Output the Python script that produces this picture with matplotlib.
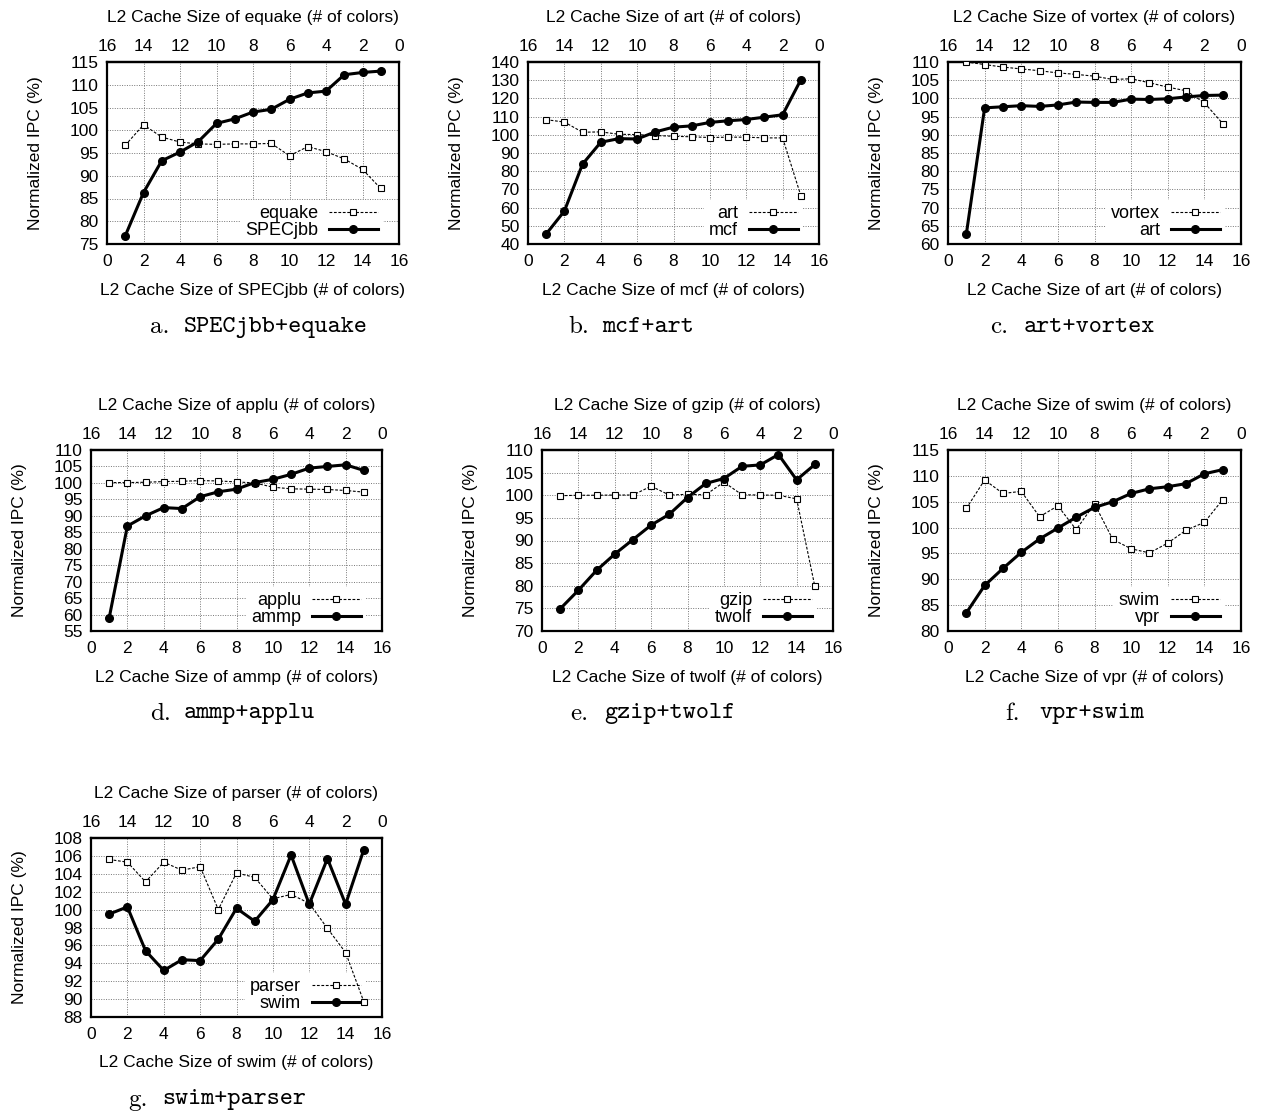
import numpy as np
import matplotlib
matplotlib.use("Agg")
import matplotlib.pyplot as plt

plt.rcParams['font.family'] = ['Liberation Sans', 'DejaVu Sans']

colors = list(range(1, 16))

# a. SPECjbb+equake
a_equake = [96.7, 101.2, 98.5, 97.4, 97.0, 96.9, 97.0, 97.0, 97.1, 94.4, 96.4, 95.3, 93.7, 91.4, 87.2]
a_specjbb = [76.8, 86.3, 93.3, 95.2, 97.5, 101.5, 102.5, 104.0, 104.6, 106.8, 108.2, 108.6, 112.2, 112.7, 113.0]
# b. mcf+art
b_art = [108.3, 107.0, 101.4, 101.6, 100.3, 100.1, 99.6, 99.2, 98.9, 98.5, 98.7, 98.7, 98.3, 98.3, 66.6]
b_mcf = [45.5, 58.1, 83.9, 95.9, 97.9, 97.7, 101.6, 104.2, 104.9, 106.8, 107.7, 108.4, 109.7, 111.0, 130.2]
# c. art+vortex
c_vortex = [110.0, 109.3, 108.6, 108.1, 107.6, 107.0, 106.6, 106.1, 105.2, 105.4, 104.3, 103.1, 102.1, 98.8, 93.1]
c_art = [62.7, 97.4, 97.7, 98.0, 97.8, 98.2, 99.0, 98.9, 98.9, 99.8, 99.7, 99.9, 100.4, 100.8, 100.9]
# d. ammp+applu
d_applu = [100.1, 100.1, 100.2, 100.4, 100.5, 100.7, 100.6, 100.3, 100.0, 98.7, 98.2, 98.1, 98.0, 97.7, 97.2]
d_ammp = [59.0, 86.9, 90.0, 92.5, 92.2, 95.8, 97.3, 98.1, 100.1, 101.1, 102.6, 104.5, 105.0, 105.5, 103.8]
# e. gzip+twolf
e_gzip = [99.9, 100.0, 100.0, 100.05, 100.05, 102.0, 100.05, 100.2, 100.1, 102.9, 100.1, 100.05, 100.0, 99.2, 79.9]
e_twolf = [74.9, 79.0, 83.4, 87.0, 90.2, 93.4, 95.8, 99.5, 102.6, 103.7, 106.4, 106.7, 109.0, 103.4, 106.8]
# f. vpr+swim
f_swim = [103.7, 109.2, 106.6, 107.0, 102.1, 104.2, 99.6, 104.6, 97.7, 95.9, 95.1, 97.0, 99.5, 101.0, 105.4]
f_vpr = [83.5, 88.8, 92.1, 95.2, 97.8, 99.9, 102.0, 103.9, 105.0, 106.6, 107.5, 107.9, 108.5, 110.4, 111.2]
# g. swim+parser
g_parser = [105.6, 105.3, 103.1, 105.3, 104.4, 104.8, 100.0, 104.1, 103.6, 101.2, 101.7, 100.7, 97.9, 95.2, 89.7]
g_swim = [99.5, 100.3, 95.4, 93.2, 94.4, 94.3, 96.7, 100.15, 98.7, 101.1, 106.1, 100.6, 105.7, 100.6, 106.7]

# (letter, solid name, dashed name, solid data, dashed data, ylim, ystep)
panels = [
    ('a.', 'SPECjbb', 'equake', a_specjbb, a_equake, (75, 115), 5),
    ('b.', 'mcf', 'art', b_mcf, b_art, (40, 140), 10),
    ('c.', 'art', 'vortex', c_art, c_vortex, (60, 110), 5),
    ('d.', 'ammp', 'applu', d_ammp, d_applu, (55, 110), 5),
    ('e.', 'twolf', 'gzip', e_twolf, e_gzip, (70, 110), 5),
    ('f.', 'vpr', 'swim', f_vpr, f_swim, (80, 115), 5),
    ('g.', 'swim', 'parser', g_swim, g_parser, (88, 108), 2),
]
# caption order differs from legend order for some panels
captions = ['SPECjbb+equake', 'mcf+art', 'art+vortex', 'ammp+applu',
            'gzip+twolf', 'vpr+swim', 'swim+parser']

# axes boxes in pixels: left, top, right, bottom
boxes = [(107, 62, 399, 244), (528, 62, 819, 244), (948, 62, 1241, 244),
         (91, 450, 382, 631), (542, 450, 833, 631), (948, 450, 1241, 631),
         (91, 838, 382, 1017)]
caption_x = [150, 568, 990, 150, 570, 1005, 128]

W, H = 1264, 1112
fig = plt.figure(figsize=(W / 100, H / 100), dpi=100)

for (letter, solid, dashed, ys, yd, ylim, ystep), cap, (l, t, r, b), cx in zip(panels, captions, boxes, caption_x):
    ax = fig.add_axes([l / W, 1 - b / H, (r - l) / W, (b - t) / H])
    ax.set_axisbelow(True)
    ax.grid(True, color='#777777', linestyle=(0, (1, 1.5)), linewidth=0.7)
    ax.plot(colors, yd, color='black', linewidth=0.8, linestyle=(0, (2.5, 1.5)),
            marker='s', markersize=4, markerfacecolor='white', markeredgewidth=0.8,
            label=dashed, zorder=3)
    ax.plot(colors, ys, color='black', linewidth=2.2, marker='o', markersize=5.5,
            label=solid, zorder=4)
    ax.set_xlim(0, 16)
    ax.set_ylim(*ylim)
    ax.set_xticks(range(0, 17, 2))
    ax.set_yticks(np.arange(ylim[0], ylim[1] + 0.1, ystep))
    ax.tick_params(length=0, labelsize=12.5, pad=7)
    ax.tick_params(axis='y', pad=6)
    for s in ax.spines.values():
        s.set_linewidth(1.6)
    ax.set_ylabel('Normalized IPC (%)', fontsize=12.5)
    ax.yaxis.set_label_coords(-0.22, 0.5)
    ax.set_xlabel('L2 Cache Size of %s (# of colors)' % solid, fontsize=12.5)
    ax.xaxis.set_label_coords(0.5, -0.215)

    sec = ax.secondary_xaxis('top', functions=(lambda x: 16 - x, lambda x: 16 - x))
    sec.set_xticks(range(0, 17, 2))
    sec.tick_params(length=0, labelsize=12.5, pad=6)
    sec.spines['top'].set_linewidth(1.6)
    ax.text(0.5, 1.247, 'L2 Cache Size of %s (# of colors)' % dashed, fontsize=12.5,
            ha='center', va='center', transform=ax.transAxes)

    leg = ax.legend(loc='lower right', bbox_to_anchor=(1 - 16 / (r - l), -0.005),
                    markerfirst=False, fontsize=13,
                    handlelength=2.7, handletextpad=0.6, labelspacing=0.0,
                    borderaxespad=0.0, borderpad=0.3, frameon=True,
                    fancybox=False, framealpha=1)
    leg.get_frame().set_edgecolor('none')
    leg.set_zorder(2)

    cy = 1 - (b + 83) / H
    fig.text(cx / W, cy, letter, family='cmr10', fontsize=18, va='center')
    fig.text((cx + 34) / W, cy, cap, family='cmtt10', fontsize=18, va='center')

fig.savefig('out.png', dpi=100)
